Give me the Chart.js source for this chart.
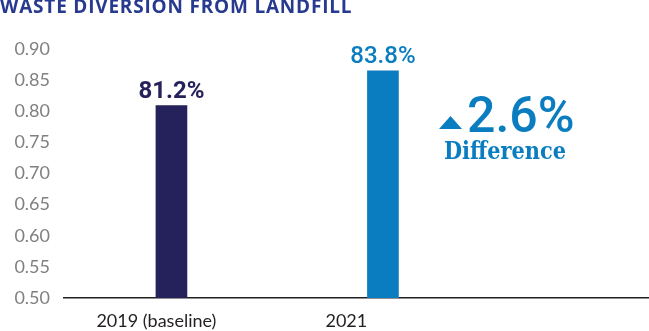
<!DOCTYPE html>
<html lang="en">
<head>
  <meta charset="UTF-8">
  <title>Waste Diversion From Landfill</title>
  <script src="https://cdn.jsdelivr.net/npm/chart.js"></script>
  <style>
    html, body { margin: 0; padding: 0; background: #fff; }
    .wrap { position: relative; width: 649px; height: 331px; }
  </style>
</head>
<body>
  <div class="wrap"><canvas id="diversionChart"></canvas></div>

  <script>
    const categories = ['2019 (baseline)', '2021'];
    const diversionRates = [0.809, 0.865];
    const valueLabels = ['81.2%', '83.8%'];
    const barColors = ['#25215a', '#0a7dc0'];
    const yTicks = [0.50, 0.55, 0.60, 0.65, 0.70, 0.75, 0.80, 0.85, 0.90];
    const chartTitle = 'WASTE DIVERSION FROM LANDFILL';
    const diffValue = '2.6%';
    const diffLabel = 'Difference';

    // title, value labels above bars and the difference callout
    const annotations = {
      id: 'annotations',
      afterDraw(chart) {
        const ctx = chart.ctx;
        ctx.save();

        ctx.fillStyle = '#283a8f';
        ctx.font = 'bold 19px "Open Sans"';
        ctx.letterSpacing = '0.8px';
        ctx.textAlign = 'left';
        ctx.textBaseline = 'alphabetic';
        ctx.fillText(chartTitle, 0, 13);
        ctx.letterSpacing = '0px';

        const bars = chart.getDatasetMeta(0).data;
        ctx.textAlign = 'center';
        bars.forEach((bar, i) => {
          ctx.fillStyle = barColors[i];
          ctx.font = (i === 0 ? 'bold' : '500') + ' 24px Roboto';
          ctx.fillText(valueLabels[i], bar.x, bar.y - 8);
        });

        // callout
        ctx.fillStyle = '#0a7dc0';
        ctx.beginPath();
        ctx.moveTo(439, 129);
        ctx.lineTo(462, 129);
        ctx.lineTo(450.5, 116);
        ctx.closePath();
        ctx.fill();

        ctx.textAlign = 'left';
        ctx.font = '500 50px Roboto';
        ctx.fillText(diffValue, 467, 132);

        ctx.font = 'bold 24px "DejaVu Serif Condensed", "DejaVu Serif"';
        const w = ctx.measureText(diffLabel).width;
        const sx = Math.min(1, 122 / w);
        ctx.translate(444, 159);
        ctx.scale(sx, 1);
        ctx.fillText(diffLabel, 0, 0);
        ctx.restore();
      }
    };

    const ctx = document.getElementById('diversionChart').getContext('2d');
    new Chart(ctx, {
      type: 'bar',
      data: {
        datasets: [{
          data: diversionRates.map((v, i) => ({ x: i, y: v })),
          backgroundColor: barColors,
          barThickness: 31
        }]
      },
      options: {
        responsive: true,
        maintainAspectRatio: false,
        animation: false,
        layout: { padding: { top: 49, right: 0, bottom: 0, left: 0 } },
        plugins: {
          legend: { display: false },
          tooltip: { enabled: false }
        },
        scales: {
          x: {
            type: 'linear',
            offset: false,
            min: -0.508,
            max: 2.258,
            grid: { display: false, offset: false, drawTicks: false },
            border: { display: true, color: '#231f20', width: 1.5 },
            // category labels sit a little left of their bars in the original
            afterBuildTicks: (scale) => { scale.ticks = [{ value: -0.071 }, { value: 0.827 }]; },
            afterFit: (scale) => { scale.height = 33; },
            ticks: {
              padding: 12,
              color: '#231f20',
              font: { family: 'Lato', size: 18 },
              maxRotation: 0,
              autoSkip: false,
              callback: (v, i) => categories[i]
            }
          },
          y: {
            min: 0.5,
            max: 0.9,
            grid: { display: false },
            border: { display: false },
            afterBuildTicks: (scale) => { scale.ticks = yTicks.map(v => ({ value: v })); },
            afterFit: (scale) => { scale.width = 64; },
            ticks: {
              padding: 6,
              color: '#808080',
              font: { family: 'Lato', size: 18 },
              callback: (v) => v.toFixed(2)
            }
          }
        }
      },
      plugins: [annotations]
    });
  </script>
</body>
</html>
